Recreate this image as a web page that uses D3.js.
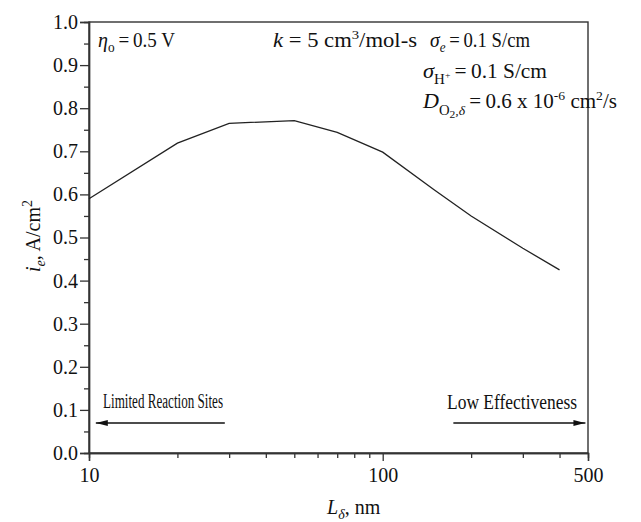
<!DOCTYPE html>
<html><head><meta charset="utf-8">
<script src="https://cdn.jsdelivr.net/npm/d3@7"></script>
<style>body{margin:0;background:#fff}svg{display:block}text{font-family:"Liberation Serif","Times New Roman",serif;fill:#111}</style>
</head><body><svg id="c" width="641" height="522"></svg>
<script>
const thickness = [10, 20, 30, 50, 70, 100, 150, 200, 300, 400];
const current = [0.59, 0.719, 0.765, 0.771, 0.744, 0.698, 0.61, 0.55, 0.475, 0.425];
const xMajorTicks = [10, 100, 500];
const xMinorTicks = [20, 30, 40, 50, 60, 70, 80, 90, 200, 300, 400];
const yMajorTicks = [0, 0.1, 0.2, 0.3, 0.4, 0.5, 0.6, 0.7, 0.8, 0.9, 1.0];
const yMinorTicks = [0.05, 0.15, 0.25, 0.35, 0.45, 0.55, 0.65, 0.75, 0.85, 0.95];

const svg = d3.select("#c");
const m = {l: 89, r: 53, t: 22, b: 69};
const W = 641, H = 522;
const x = d3.scaleLog().domain([10, 500]).range([m.l, W - m.r]);
const y = d3.scaleLinear().domain([0, 1]).range([H - m.b, m.t]);

svg.append("rect").attr("x", m.l).attr("y", m.t).attr("width", W - m.r - m.l).attr("height", H - m.b - m.t)
  .attr("fill", "none").attr("stroke", "#333").attr("stroke-width", 1.4);

const fmt = d3.format(".1f");
const gx = svg.append("g").attr("transform", `translate(0,${H - m.b})`)
  .call(d3.axisBottom(x).tickValues(xMajorTicks).tickFormat(d3.format("d")).tickSize(8).tickPadding(7));
const gxm = svg.append("g").attr("transform", `translate(0,${H - m.b})`)
  .call(d3.axisBottom(x).tickValues(xMinorTicks).tickFormat("").tickSize(5));
const gy = svg.append("g").attr("transform", `translate(${m.l},0)`)
  .call(d3.axisLeft(y).tickValues(yMajorTicks).tickFormat(fmt).tickSize(9).tickPadding(2));
const gym = svg.append("g").attr("transform", `translate(${m.l},0)`)
  .call(d3.axisLeft(y).tickValues(yMinorTicks).tickFormat("").tickSize(5));
[gx, gxm, gy, gym].forEach(g => {
  g.select(".domain").attr("stroke", "#333").attr("stroke-width", 1.4);
  g.selectAll(".tick line").attr("stroke", "#333").attr("stroke-width", 1.3);
  g.selectAll(".tick text").attr("font-family", "Liberation Serif").attr("font-size", 20).attr("fill", "#111");
});

svg.append("path").datum(thickness.map((t, i) => [t, current[i]]))
  .attr("d", d3.line().x(d => x(d[0])).y(d => y(d[1])))
  .attr("fill", "none").attr("stroke", "#222").attr("stroke-width", 1.3);

// axis labels
const yl = svg.append("text").attr("transform", "translate(40,236) rotate(-90)").attr("text-anchor", "middle").attr("font-size", 20);
yl.append("tspan").attr("font-style", "italic").text("i");
yl.append("tspan").attr("font-style", "italic").attr("font-size", 14).attr("dy", 5).text("e");
yl.append("tspan").attr("dy", -5).text(", A/cm");
yl.append("tspan").attr("font-size", 14).attr("dy", -8).text("2");

const xl = svg.append("text").attr("x", 327).attr("y", 514).attr("font-size", 20);
xl.append("tspan").attr("font-style", "italic").text("L");
xl.append("tspan").attr("font-style", "italic").attr("font-size", 14).attr("dy", 5).text("δ");
xl.append("tspan").attr("dy", -5).text(", nm");

function ann(xp, yp, len, parts) {
  const t = svg.append("text").attr("x", xp).attr("y", yp).attr("font-size", 20)
    .attr("textLength", len).attr("lengthAdjust", "spacingAndGlyphs");
  parts.forEach(p => {
    const s = t.append("tspan").text(p.t);
    if (p.i) s.attr("font-style", "italic");
    if (p.fs) s.attr("font-size", p.fs);
    if (p.dy) s.attr("dy", p.dy);
  });
}
ann(98, 47, 77, [{t: "η", i: 1, fs: 21}, {t: "o", fs: 14, dy: 5}, {t: "\u2009=\u20090.5 V", dy: -5}]);
ann(273, 47, 144, [{t: "k", i: 1}, {t: " = 5 cm"}, {t: "3", fs: 13, dy: -8}, {t: "/mol-s", dy: 8}]);
ann(430, 47, 100, [{t: "σ", i: 1, fs: 21}, {t: "e", i: 1, fs: 14, dy: 5}, {t: "\u2009=\u20090.1 S/cm", dy: -5}]);
ann(423, 78, 124, [{t: "σ", i: 1, fs: 21}, {t: "H", fs: 14, dy: 6}, {t: "+", fs: 9, dy: -6}, {t: "\u2009=\u20090.1 S/cm"}]);
ann(423, 108, 194, [{t: "D", i: 1, fs: 21}, {t: "O", fs: 14, dy: 7}, {t: "2", fs: 11, dy: 3}, {t: ",δ", i: 1, fs: 13, dy: -3},
  {t: "\u2009=\u20090.6 x 10", dy: -7}, {t: "-6", fs: 13, dy: -8}, {t: " cm", dy: 8}, {t: "2", fs: 13, dy: -8}, {t: "/s", dy: 8}]);

svg.append("defs").append("marker").attr("id", "ah").attr("viewBox", "0 0 12 6").attr("refX", 12).attr("refY", 3)
  .attr("markerWidth", 12).attr("markerHeight", 6).attr("markerUnits", "userSpaceOnUse").attr("orient", "auto")
  .append("path").attr("d", "M0,0L12,3L0,6Z").attr("fill", "#111");
svg.append("text").attr("x", 103).attr("y", 408).attr("font-size", 20).attr("textLength", 120).attr("lengthAdjust", "spacingAndGlyphs").text("Limited Reaction Sites");
svg.append("text").attr("x", 447).attr("y", 409).attr("font-size", 20).attr("textLength", 130).attr("lengthAdjust", "spacingAndGlyphs").text("Low Effectiveness");
svg.append("line").attr("x1", x(29)).attr("y1", 423).attr("x2", x(10.55)).attr("y2", 423)
  .attr("stroke", "#111").attr("stroke-width", 1.4).attr("marker-end", "url(#ah)");
svg.append("line").attr("x1", x(174)).attr("y1", 423).attr("x2", x(490)).attr("y2", 423)
  .attr("stroke", "#111").attr("stroke-width", 1.4).attr("marker-end", "url(#ah)");
</script></body></html>
